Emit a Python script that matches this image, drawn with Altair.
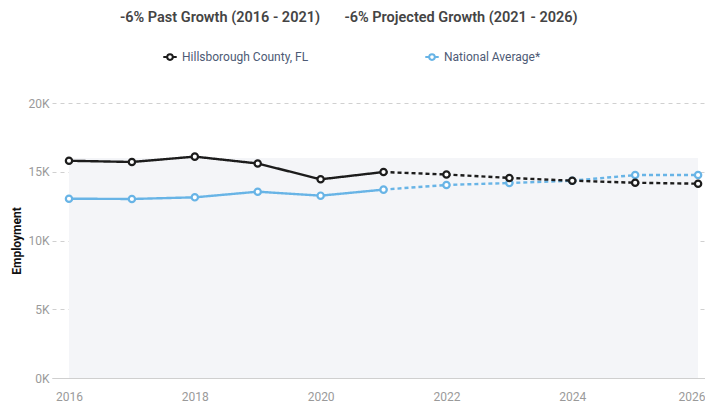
import altair as alt
import pandas as pd

years = list(range(2016, 2027))
hillsborough = [15800, 15710, 16100, 15600, 14450, 14980, 14800, 14550, 14350, 14200, 14130]
national = [13040, 13020, 13140, 13550, 13260, 13700, 14040, 14180, 14350, 14760, 14760]
series_names = ["Hillsborough County, FL", "National Average*"]
series_colors = ["#1c1c1c", "#68b4e6"]
headings = ["-6% Past Growth (2016 - 2021)", "-6% Projected Growth (2021 - 2026)"]
y_ticks = [0, 5000, 10000, 15000, 20000]
x_ticks = [2016, 2018, 2020, 2022, 2024, 2026]
shade_top = 16000
last_actual = 2021

line_rows = []
point_rows = []
for name, vals in zip(series_names, [hillsborough, national]):
    for yr, v in zip(years, vals):
        point_rows.append(dict(series=name, year=yr, value=v))
        if yr <= last_actual:
            line_rows.append(dict(series=name, year=yr, value=v, period="Past"))
        if yr >= last_actual:
            line_rows.append(dict(series=name, year=yr, value=v, period="Projected"))
lines_df = pd.DataFrame(line_rows)
points_df = pd.DataFrame(point_rows)
shade_df = pd.DataFrame([dict(x=years[0], x2=years[-1], y=0, y2=shade_top)])

FONT = "Roboto, sans-serif"

x_scale = alt.Scale(domain=[2015.73, 2026.11], nice=False, zero=False)
y_scale = alt.Scale(domain=[0, 20000], nice=False)
color_scale = alt.Scale(domain=series_names, range=series_colors)

x_axis = alt.Axis(values=x_ticks, format="d", grid=False, ticks=False, domainColor="#cfcfcf",
                  labelColor="#9a9a9a", labelFontSize=12, labelPadding=13, title=None,
                  labelFont=FONT,
                  labelAlign=alt.ExprRef(expr=f"datum.value == {x_ticks[-1]} ? 'right' : 'center'"),
                  labelOffset=alt.ExprRef(expr=f"datum.value == {x_ticks[-1]} ? 7 : 0"))
y_axis = alt.Axis(values=y_ticks, labelExpr="datum.value / 1000 + 'K'", grid=True,
                  gridDash=[4, 4], gridColor="#d0d0d0", ticks=False, domain=False,
                  labelColor="#9a9a9a", labelFontSize=12, labelPadding=3, labelFont=FONT,
                  title="Employment", titleFont=FONT, titleFontSize=12, titleFontWeight="bold",
                  titleColor="#111", titlePadding=4)

shade = alt.Chart(shade_df).mark_rect(color="#f4f5f8").encode(
    x=alt.X("x:Q", scale=x_scale, axis=x_axis), x2="x2:Q",
    y=alt.Y("y:Q", scale=y_scale, axis=y_axis), y2="y2:Q")

def series_layer(name):
    ld = lines_df[lines_df.series == name]
    pdf = points_df[points_df.series == name]
    line = alt.Chart(ld).mark_line(strokeWidth=2.4).encode(
        x=alt.X("year:Q", scale=x_scale),
        y=alt.Y("value:Q", scale=y_scale),
        color=alt.Color("series:N", scale=color_scale),
        strokeDash=alt.StrokeDash("period:N", scale=alt.Scale(domain=["Past", "Projected"],
                                  range=[[1, 0], [4, 3]]), legend=None),
        detail="period:N")
    pts = alt.Chart(pdf).mark_point(filled=True, fill="white", size=40, strokeWidth=2.2, opacity=1).encode(
        x=alt.X("year:Q", scale=x_scale),
        y=alt.Y("value:Q", scale=y_scale),
        stroke=alt.Stroke("series:N", scale=color_scale,
                          legend=alt.Legend(title=None, orient="none", direction="horizontal",
                                            legendX=110, legendY=-54,
                                            symbolType="M-1,0L-0.42,0M0.42,0L1,0M0.42,0A0.42,0.42 0 1,1 -0.42,0A0.42,0.42 0 1,1 0.42,0",
                                            symbolSize=180, symbolStrokeWidth=2, symbolFillColor="white",
                                            labelColor="#4d5a75", labelFontSize=12, labelFont=FONT,
                                            columnPadding=112, labelOffset=4)))
    return line + pts

heading_layers = []
for txt, cx in zip(headings, [168, 409]):
    heading_layers.append(
        alt.Chart(pd.DataFrame([dict(t=txt)])).mark_text(
            fontSize=14.5, fontWeight=600, color="#444", font=FONT, baseline="middle").encode(
            text="t:N", x=alt.value(cx), y=alt.value(-85)))

chart = alt.layer(shade, series_layer(series_names[1]), series_layer(series_names[0]),
                  *heading_layers).resolve_scale(color="shared").properties(
    width=653, height=275,
    autosize=alt.AutoSizeParams(type="none"),
    padding={"left": 44, "top": 95, "right": 0, "bottom": 30},
).configure_view(stroke=None)

chart.save("out.html", embed_options={"renderer": "svg", "actions": False})
